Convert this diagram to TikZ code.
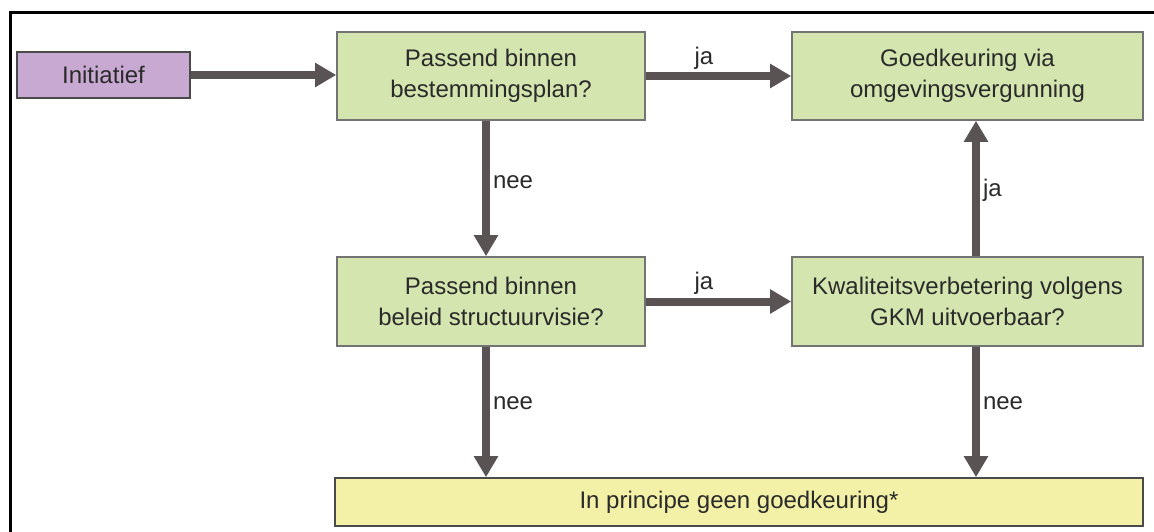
\documentclass[tikz,border=0pt]{standalone}
\usepackage{fontspec}
\setmainfont{Liberation Sans}
\usepackage{xcolor}
\usepackage{tikz}
\usetikzlibrary{positioning,arrows.meta,calc}
\definecolor{fInitFill}{HTML}{C8A9D1}
\definecolor{fStepFill}{HTML}{D4E5AF}
\definecolor{fEndFill}{HTML}{F2F1A7}
\definecolor{fBorder}{HTML}{737373}
\definecolor{fArrow}{HTML}{595354}
\definecolor{fText}{HTML}{2A2A2A}
\tikzset{
 boxbase/.style={draw, line width=1.6pt, align=center, inner sep=0pt, text=fText, font=\fontsize{24}{31}\selectfont},
 initbox/.style={boxbase, draw=fText!85, fill=fInitFill, minimum width=173pt, minimum height=46pt},
 stepbox/.style={boxbase, draw=fBorder, fill=fStepFill, minimum height=88pt},
 endbox/.style={boxbase, draw=fText!85, fill=fEndFill, minimum width=808pt, minimum height=48pt},
 flow/.style={draw=fArrow, line width=8pt, -{Triangle[length=21pt,width=23pt]}},
 flowlbl/.style={text=fText, font=\fontsize{24}{28}\selectfont, inner sep=3pt}
}

\begin{document}
\begin{tikzpicture}[x=1pt,y=-1pt]
\useasboundingbox (0,0) rectangle (1154,532);
% frame
\draw[line width=3pt, line cap=rect] (10,532) -- (10,13) -- (1154,13);
% boxes
\node[initbox] (init) at (103.5,75) {Initiatief};
\node[stepbox, minimum width=308pt] (q1) at (491,76) {Passend binnen\\bestemmingsplan?};
\node[stepbox, minimum width=351pt] (goed) at (967.5,76) {Goedkeuring via\\omgevingsvergunning};
\node[stepbox, minimum width=308pt, minimum height=89pt] (q2) at (491,301.5) {Passend binnen\\beleid structuurvisie?};
\node[stepbox, minimum width=351pt, minimum height=89pt] (kwal) at (967.5,301.5) {Kwaliteitsverbetering volgens\\GKM uitvoerbaar?};
\node[endbox] (geen) at (739,502) {In principe geen goedkeuring*};
% connectors
\coordinate (qd) at ([xshift=-5pt]q1.south);
\coordinate (kd) at ([xshift=8.5pt]kwal.south);
\coordinate (ku) at ([xshift=8.5pt]kwal.north);
\draw[flow] (init.east) -- (init.east -| q1.west);
\draw[flow] (q1.east) -- node[flowlbl, above, pos=0.4] {ja} (goed.west);
\draw[flow] (qd) -- node[flowlbl, right, pos=0.45] {nee} (qd |- q2.north);
\draw[flow] (q2.east) -- node[flowlbl, above, pos=0.4] {ja} (kwal.west);
\draw[flow] (ku) -- node[flowlbl, right, pos=0.49] {ja} (ku |- goed.south);
\draw[flow] (qd |- q2.south) -- node[flowlbl, right, pos=0.43] {nee} (qd |- geen.north);
\draw[flow] (kd) -- node[flowlbl, right, pos=0.43] {nee} (kd |- geen.north);
\end{tikzpicture}
\end{document}
